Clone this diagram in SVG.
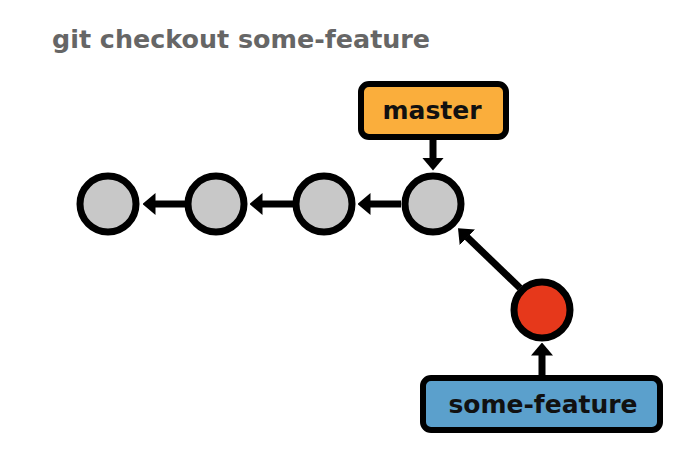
<svg xmlns="http://www.w3.org/2000/svg" width="676" height="454" viewBox="0 0 676 454">
<style>
text { font-family: "DejaVu Sans", Verdana, sans-serif; font-weight: bold; font-size: 25px; }
.title { fill: #666666; font-size: 25.4px; }
.lbl { fill: #111111; text-anchor: middle; }
.commit { fill: #c8c8c8; stroke: #000; stroke-width: 7; }
.head { fill: #e6381b; stroke: #000; stroke-width: 7; }
.box { stroke: #000; stroke-width: 6; }
.edge { stroke: #000; stroke-width: 7; fill: none; marker-end: url(#ah); }
</style>
<defs>
<marker id="ah" viewBox="0 -11 13 22" markerWidth="13" markerHeight="22" refX="0.5" refY="0" orient="auto" markerUnits="userSpaceOnUse">
<path d="M0,-11 L13,0 L0,11 z" fill="#000"/>
</marker>
</defs>
<rect width="676" height="454" fill="#fff"/>
<text class="title" x="52" y="48">git checkout some-feature</text>
<g id="connectors">
<line class="edge" x1="185" y1="204" x2="155" y2="204"/>
<line class="edge" x1="293" y1="204" x2="262" y2="204"/>
<line class="edge" x1="401" y1="204" x2="370" y2="204"/>
<line class="edge" x1="433" y1="139" x2="433" y2="158"/>
<line class="edge" x1="520" y1="288" x2="467" y2="237"/>
<line class="edge" x1="542" y1="375" x2="542" y2="355"/>
</g>
<g id="c1"><circle class="commit" cx="108" cy="204" r="28"/></g>
<g id="c2"><circle class="commit" cx="216" cy="204" r="28"/></g>
<g id="c3"><circle class="commit" cx="324" cy="204" r="28"/></g>
<g id="c4"><circle class="commit" cx="433" cy="204" r="28"/></g>
<g id="c5"><circle class="head" cx="542" cy="310" r="28"/></g>
<g id="master"><rect class="box" x="361" y="84" width="145" height="53" rx="8" fill="#faae3c"/><text class="lbl" x="432" y="119">master</text></g>
<g id="some-feature"><rect class="box" x="423" y="378" width="237" height="52" rx="8" fill="#5ba0cc"/><text class="lbl" x="543" y="413">some-feature</text></g>
</svg>
